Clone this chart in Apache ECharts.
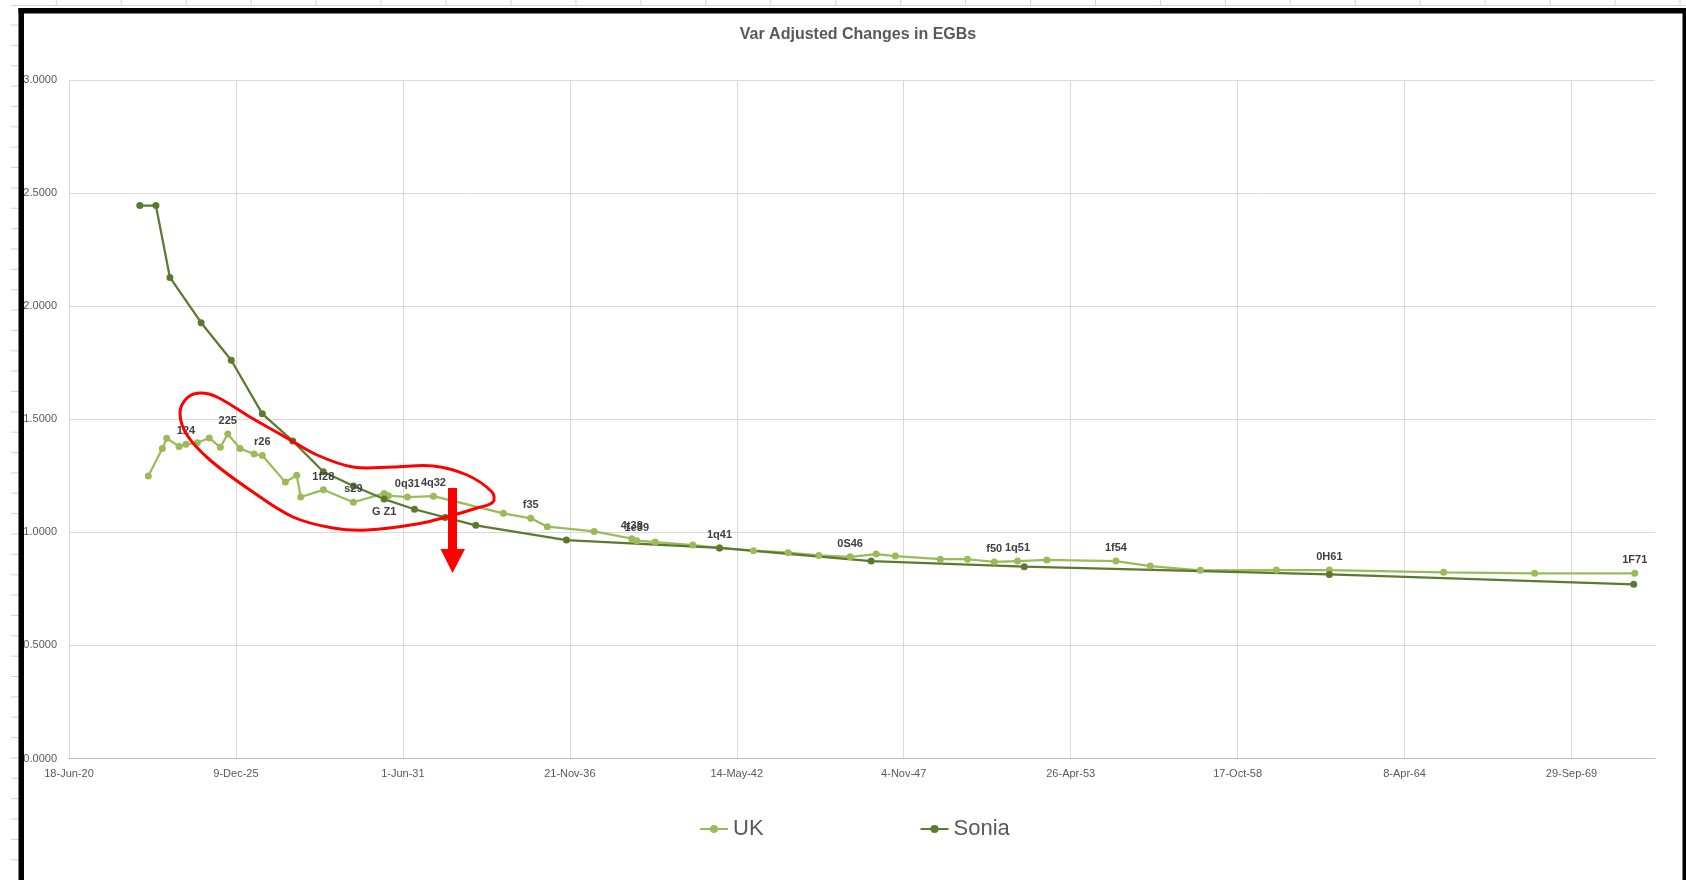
<!DOCTYPE html>
<html>
<head>
    <meta charset="utf-8">
    <title>Var Adjusted Changes in EGBs</title>
    <script src="https://cdn.jsdelivr.net/npm/echarts/dist/echarts.min.js"></script>
    <style>
        html, body { margin: 0; padding: 0; background: #fff; }
        #chart { width: 1686px; height: 880px; }
    </style>
</head>
<body>
    <div id="chart"></div>
    <script type="text/javascript">
        // dates are Excel serial numbers (44000 = 18-Jun-20)
        var ukDates = [44950, 45118, 45171, 45318, 45402, 45537, 45681, 45813, 45902, 46049,
            46217, 46316, 46592, 46728, 46776, 47047, 47407, 47775, 47826, 48054,
            48366, 49204, 49532, 49731, 50291, 50742, 50802, 51022, 51473, 51793,
            52200, 52616, 52982, 53358, 53670, 53898, 54438, 54764, 55084, 55363,
            55715, 56542, 56954, 57553, 58464, 59099, 60468, 61559, 62757];
        var ukValues = [1.249, 1.371, 1.416, 1.380, 1.389, 1.396, 1.417, 1.376, 1.435, 1.371,
            1.346, 1.340, 1.222, 1.252, 1.156, 1.188, 1.133, 1.172, 1.162, 1.156,
            1.160, 1.084, 1.062, 1.025, 1.004, 0.972, 0.963, 0.957, 0.944, 0.931,
            0.919, 0.910, 0.898, 0.892, 0.904, 0.895, 0.881, 0.881, 0.869, 0.873,
            0.878, 0.873, 0.851, 0.832, 0.833, 0.833, 0.823, 0.819, 0.819];
        var ukLabels = ['', '', '', '', '124', '', '', '', '225', '',
            '', 'r26', '', '', '', '1f28', 's29', '', '', '0q31',
            '4q32', '', 'f35', '', '', '4t38', '1e39', '', '', '1q41',
            '', '', '', '0S46', '', '', '', '', 'f50', '1q51',
            '', '1f54', '', '', '', '0H61', '', '', '1F71'];

        var soniaDates = [44848, 45041, 45209, 45583, 45944, 46316, 46680, 47047, 47407, 47775,
            48139, 48506, 48873, 49959, 51793, 53610, 55444, 59099, 62745];
        var soniaValues = [2.445, 2.445, 2.127, 1.927, 1.761, 1.524, 1.404, 1.268, 1.205, 1.147,
            1.102, 1.066, 1.031, 0.966, 0.931, 0.873, 0.848, 0.814, 0.770];
        var soniaLabels = ['', '', '', '', '', '', '', '', '', 'G Z1',
            '', '', '', '', '', '', '', '', ''];

        var xMin = 44000, xMax = 63000, xStep = 2000;
        var yMin = 0, yMax = 3, yStep = 0.5;

        var months = ['Jan', 'Feb', 'Mar', 'Apr', 'May', 'Jun', 'Jul', 'Aug', 'Sep', 'Oct', 'Nov', 'Dec'];
        function excelDate(serial) {
            var d = new Date(Math.round((serial - 25569) * 86400000));
            return d.getUTCDate() + '-' + months[d.getUTCMonth()] + '-' + String(d.getUTCFullYear()).slice(2);
        }

        var font = "'Liberation Sans', Arial, sans-serif";
        var ukData = ukDates.map(function (d, i) { return [d, ukValues[i]]; });
        var soniaData = soniaDates.map(function (d, i) { return [d, soniaValues[i]]; });

        // worksheet cell lines peeking out round the chart frame
        var sheet = [{ type: 'line', shape: { x1: 11, y1: 5.5, x2: 1686, y2: 5.5 }, style: { stroke: '#d4d4d4', lineWidth: 1 } }];
        for (var cx = 56.3; cx < 1686; cx += 64.95) {
            sheet.push({ type: 'line', shape: { x1: cx, y1: 0, x2: cx, y2: 6 }, style: { stroke: '#d4d4d4', lineWidth: 1 } });
        }
        for (var ry = 25; ry < 880; ry += 20.36) {
            sheet.push({ type: 'line', shape: { x1: 11, y1: ry, x2: 19, y2: ry }, style: { stroke: '#d4d4d4', lineWidth: 1 } });
        }

        var myChart = echarts.init(document.getElementById('chart'));
        var option = {
            backgroundColor: '#fff',
            animation: false,
            title: {
                text: 'Var Adjusted Changes in EGBs',
                left: 853,
                textAlign: 'center',
                top: 22,
                textStyle: { fontFamily: font, fontSize: 16, fontWeight: 'bold', color: '#595959' }
            },
            legend: {
                data: ['UK', 'Sonia'],
                left: 694,
                top: 813,
                itemWidth: 28,
                itemHeight: 10,
                itemGap: 156,
                textStyle: { fontFamily: font, fontSize: 22, color: '#595959' }
            },
            grid: { left: 69, right: 31, top: 80, bottom: 121.5, containLabel: false },
            xAxis: {
                type: 'value',
                min: xMin,
                max: xMax,
                interval: xStep,
                axisLine: { show: true, lineStyle: { color: '#bfbfbf', width: 1 } },
                axisTick: { show: false },
                splitLine: { show: true, showMinLine: true, showMaxLine: false, lineStyle: { color: '#d9d9d9', width: 1 } },
                axisLabel: {
                    margin: 10,
                    showMaxLabel: false,
                    fontFamily: font,
                    fontSize: 11,
                    color: '#595959',
                    formatter: function (v) { return excelDate(v); }
                }
            },
            yAxis: {
                type: 'value',
                min: yMin,
                max: yMax,
                interval: yStep,
                axisLine: { show: false },
                axisTick: { show: false },
                splitLine: { show: true, lineStyle: { color: '#d9d9d9', width: 1 } },
                axisLabel: {
                    margin: 12,
                    fontFamily: font,
                    fontSize: 11,
                    color: '#595959',
                    formatter: function (v) { return v.toFixed(4); }
                }
            },
            series: [{
                name: 'UK',
                type: 'line',
                data: ukData,
                color: '#9bbb59',
                symbol: 'circle',
                symbolSize: 7,
                lineStyle: { width: 2.25 },
                label: {
                    show: true,
                    position: 'top',
                    distance: 4,
                    fontFamily: font,
                    fontSize: 11,
                    fontWeight: 'bold',
                    color: '#404040',
                    formatter: function (p) { return ukLabels[p.dataIndex]; }
                }
            }, {
                name: 'Sonia',
                type: 'line',
                data: soniaData,
                color: '#5b7a2e',
                symbol: 'circle',
                symbolSize: 7,
                lineStyle: { width: 2.25 },
                label: {
                    show: true,
                    position: 'bottom',
                    distance: 4,
                    fontFamily: font,
                    fontSize: 11,
                    fontWeight: 'bold',
                    color: '#404040',
                    formatter: function (p) { return soniaLabels[p.dataIndex]; }
                }
            }],
            graphic: [{
                type: 'group',
                silent: true,
                children: sheet
            }, {
                // chart frame from the screenshot
                type: 'rect', silent: true, z: 100,
                shape: { x: 18.5, y: 8, width: 5.5, height: 880 },
                style: { fill: '#000' }
            }, {
                type: 'rect', silent: true, z: 100,
                shape: { x: 18.5, y: 8, width: 1668, height: 5.5 },
                style: { fill: '#000' }
            }, {
                type: 'rect', silent: true, z: 100,
                shape: { x: 1682.5, y: 8, width: 4, height: 880 },
                style: { fill: '#000' }
            }, {
                // red hand-drawn loop
                type: 'polygon', silent: true, z: 90,
                shape: {
                    smooth: 0.35,
                    points: [[180, 413], [187, 398], [200, 393], [217, 397], [250, 417], [287, 438],
                        [317, 455], [353, 467], [393, 467], [433, 466], [467, 475], [492, 492],
                        [493, 502], [477, 508], [450, 516], [417, 524], [367, 530], [333, 528],
                        [293, 517], [250, 490], [210, 460], [187, 435]]
                },
                style: { fill: 'none', stroke: '#ff0000', lineWidth: 3 }
            }, {
                type: 'rect', silent: true, z: 90,
                shape: { x: 448, y: 488, width: 9, height: 62 },
                style: { fill: '#ff0000' }
            }, {
                type: 'polygon', silent: true, z: 90,
                shape: { points: [[440.5, 549], [465, 549], [452.5, 573]] },
                style: { fill: '#ff0000' }
            }]
        };
        myChart.setOption(option);
    </script>
</body>
</html>
